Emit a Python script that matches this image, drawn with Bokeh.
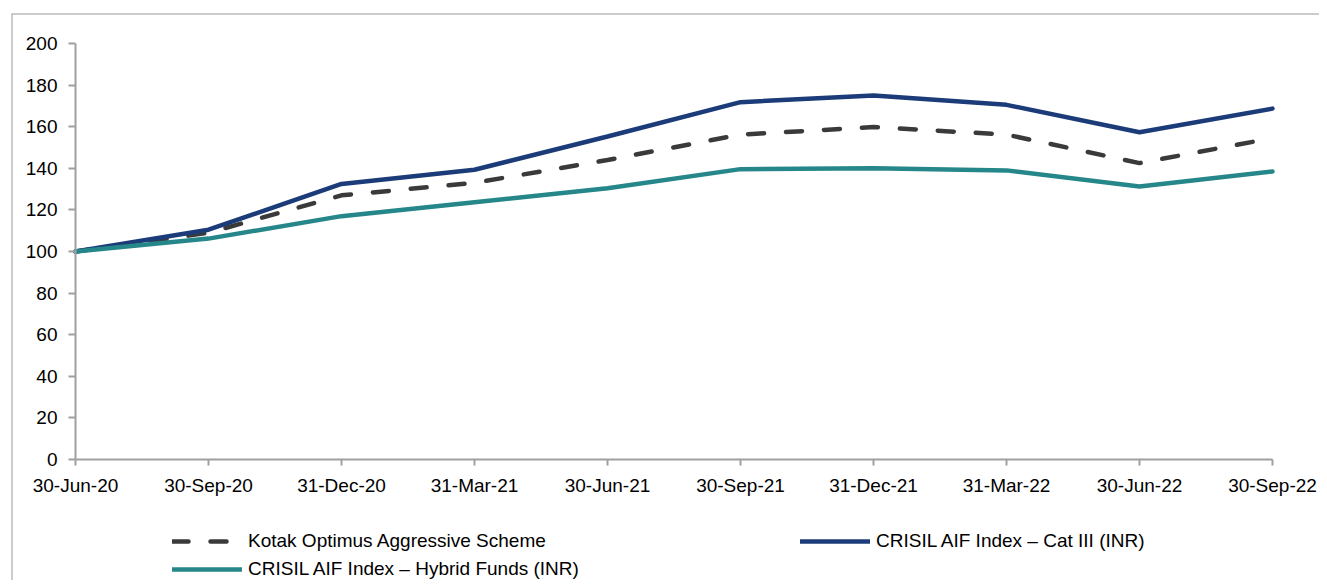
from bokeh.plotting import figure
from bokeh.models import Legend, LegendItem, FixedTicker, Span
from bokeh.embed import file_html
from bokeh.resources import INLINE

dates = ["30-Jun-20", "30-Sep-20", "31-Dec-20", "31-Mar-21", "30-Jun-21",
         "30-Sep-21", "31-Dec-21", "31-Mar-22", "30-Jun-22", "30-Sep-22"]
kotak = [100, 109, 127, 133, 144, 156.2, 159.8, 156.2, 142.5, 154.5]
cat3 = [100, 110.5, 132.5, 139.3, 155.3, 171.8, 175, 170.5, 157.3, 168.7]
hybrid = [100, 106.2, 117, 123.7, 130.4, 139.6, 140, 139, 131.2, 138.5]
y_ticks = [0, 20, 40, 60, 80, 100, 120, 140, 160, 180, 200]

xs = list(range(len(dates)))
FONT = "Liberation Sans"
FS = "19px"
GRAY = "#a0a0a0"

W, H = 1319, 580                            # canvas size
FL, FT = 11, 13                             # frame left/top (canvas px)
X0, X9, Y0, Y200 = 75, 1272, 459, 43        # data anchor pixels
ppx = (X9 - X0) / (len(dates) - 1)
ppy = (Y0 - Y200) / 200.0
x_start = -(X0 - FL) / ppx
x_end = (len(dates) - 1) + (W - X9) / ppx
y_end = 200 + (Y200 - FT) / ppy
y_start = -(H - Y0) / ppy

p = figure(width=W, height=H, output_backend="svg", toolbar_location=None,
           x_range=(x_start, x_end), y_range=(y_start, y_end),
           min_border_left=FL, min_border_top=FT,
           min_border_right=0, min_border_bottom=0)
p.outline_line_color = None
p.xgrid.visible = False
p.ygrid.visible = False
p.add_layout(Span(location=x_start, dimension="height", line_color="#999999", line_width=2))
p.add_layout(Span(location=y_end, dimension="width", line_color="#999999", line_width=2))

r_kotak = p.line(xs, kotak, line_color="#3a3a3a", line_width=4.5,
                 line_dash="16 22", line_cap="round")
r_cat3 = p.line(xs, cat3, line_color="#1b3c78", line_width=4.5, line_cap="round")
r_hyb = p.line(xs, hybrid, line_color="#26878a", line_width=4.5, line_cap="round")

p.xaxis.fixed_location = 0
p.yaxis.fixed_location = 0
p.xaxis.bounds = (0, len(dates) - 1)
p.yaxis.bounds = (0, 200)
p.xaxis.ticker = FixedTicker(ticks=xs)
p.xaxis.major_label_overrides = {i: d for i, d in zip(xs, dates)}
p.yaxis.ticker = FixedTicker(ticks=y_ticks)
for ax in (p.xaxis, p.yaxis):
    ax.axis_line_color = GRAY
    ax.axis_line_width = 2
    ax.major_tick_line_color = GRAY
    ax.major_tick_line_width = 2
    ax.minor_tick_line_color = None
    ax.major_tick_in = 0
    ax.major_label_text_font = FONT
    ax.major_label_text_font_size = FS
    ax.major_label_text_color = "#000000"
p.yaxis.major_tick_out = 7
p.xaxis.major_tick_out = 6
p.yaxis.major_label_standoff = 11
p.xaxis.major_label_standoff = 9


def mk_legend(items, loc, spacing):
    return Legend(items=items, location=loc, orientation="vertical",
                  glyph_width=70, glyph_height=20, label_standoff=6,
                  label_text_font=FONT, label_text_font_size=FS, label_text_color="#000000",
                  padding=0, margin=0, spacing=spacing,
                  border_line_alpha=0, background_fill_alpha=0)


lg1 = mk_legend([LegendItem(label="Kotak Optimus Aggressive Scheme", renderers=[r_kotak]),
                 LegendItem(label="CRISIL AIF Index \u2013 Hybrid Funds (INR)", renderers=[r_hyb])],
                (172 - FL, 0), 6)
lg2 = mk_legend([LegendItem(label="CRISIL AIF Index \u2013 Cat III (INR)", renderers=[r_cat3])],
                (800 - FL, 28), 0)
p.add_layout(lg1, "center")
p.add_layout(lg2, "center")

open("out.html", "w").write(file_html(p, INLINE))
